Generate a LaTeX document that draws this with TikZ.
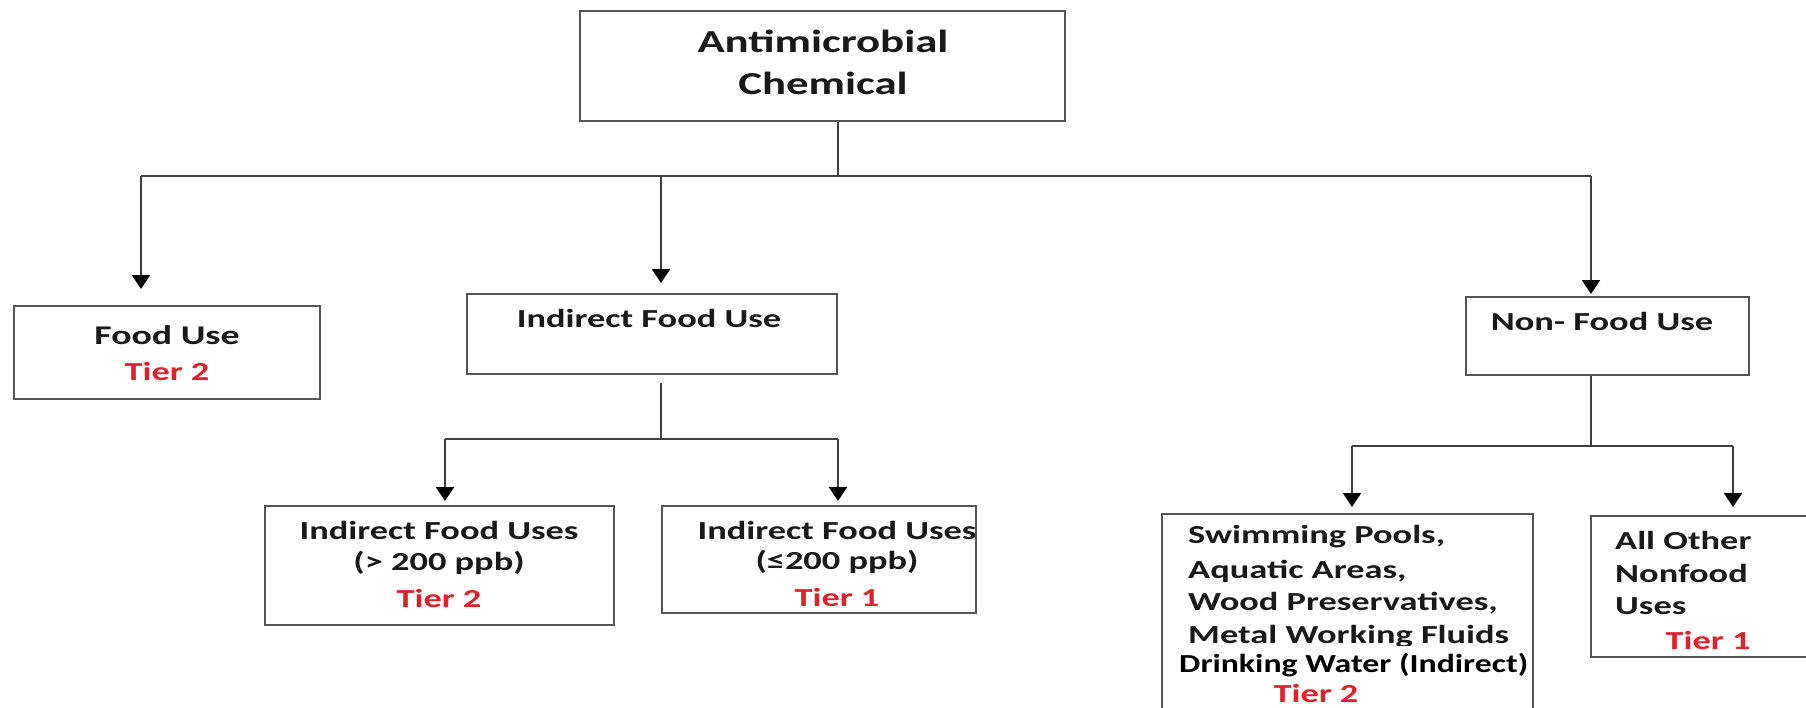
\documentclass[tikz,border=0pt]{standalone}
\usepackage{fontspec}
\setmainfont{Carlito}
\newfontfamily\calfont[FakeStretch=1.4]{Carlito}
\newfontfamily\calfontdw[FakeStretch=1.3]{Carlito}
\usetikzlibrary{arrows.meta}
\definecolor{tierred}{RGB}{224,32,42}
\definecolor{boxgray}{RGB}{85,85,85}
\definecolor{txtblack}{RGB}{25,25,25}
\begin{document}
\begin{tikzpicture}[x=1pt,y=-1pt,
  box/.style={draw=boxgray,line width=2pt,inner sep=0pt},
  txt/.style={font=\calfont\bfseries\fontsize{26}{33}\selectfont,inner sep=0pt,text=txtblack},
  titletxt/.style={font=\calfont\bfseries\fontsize{32}{40}\selectfont,inner sep=0pt,text=txtblack},
  tier/.style={txt,text=tierred},
  ltxt/.style={txt,anchor=west},
  conn/.style={draw=black!75,line width=2pt},
  arr/.style={conn,-{Triangle[width=18pt,length=14pt,color=black]}},
]
\clip (0,0) rectangle (1806,707);
\fill[white] (0,0) rectangle (1806,707);

% boxes
\node[box,minimum width=485pt,minimum height=110pt] (root) at (822.5,66) {};
\node[box,minimum width=306pt,minimum height=93pt] (food) at (167,352.5) {};
\node[box,minimum width=370pt,minimum height=80pt] (ind) at (652,334) {};
\node[box,minimum width=349pt,minimum height=119pt] (ig) at (439.5,565.5) {};
\node[box,minimum width=314pt,minimum height=107pt] (il) at (819,559.5) {};
\node[box,minimum width=283pt,minimum height=78pt] (non) at (1607.5,336) {};
\node[box,minimum width=371pt,minimum height=201pt] (sw) at (1347.5,614.5) {};
\node[box,minimum width=229pt,minimum height=141pt] (ao) at (1705.5,586.5) {};

% texts
\node[titletxt] (troot1) at (823,41) {Antimicrobial};
\node[titletxt] (troot2) at (823,83) {Chemical};
\node[txt,font=\calfont\bfseries\fontsize{27}{33}\selectfont] (tfood) at (167,335) {Food Use};
\node[tier] (tfoodt) at (167,371) {Tier 2};
\node[txt] (tind) at (649,318) {Indirect Food Use};
\node[txt] (tig1) at (439,530) {Indirect Food Uses};
\node[txt] (tig2) at (439,563) {(> 200 ppb)};
\node[tier] (tig3) at (439,598) {Tier 2};
\node[txt] (til1) at (837,530) {Indirect Food Uses};
\node[txt] (til2) at (837,562) {(≤200 ppb)};
\node[tier] (til3) at (837,597) {Tier 1};
\node[txt] (tnon) at (1602,321) {Non- Food Use};
\node[ltxt] (tsw1) at (1188,537) {Swimming Pools,};
\node[ltxt] (tsw2) at (1188,571) {Aquatic Areas,};
\node[ltxt] (tsw3) at (1188,603) {Wood Preservatives,};
\node[ltxt] (tsw4) at (1188,637) {Metal Working Fluids};
\fill[white] (1166,646) rectangle (1529,652);
\node[txt,font=\calfontdw\bfseries\fontsize{26}{33}\selectfont,text=black,anchor=west] (tsw5) at (1179,665) {Drinking Water (Indirect)};
\node[tier] (tsw6) at (1316,693) {Tier 2};
\node[ltxt] (tao1) at (1615,540) {All Other};
\node[ltxt] (tao2) at (1615,573) {Nonfood};
\node[ltxt] (tao3) at (1615,606) {Uses};
\node[tier] (tao4) at (1708,640) {Tier 1};

% connectors level 1
\coordinate (jl) at (141,176);
\coordinate (jm) at (661,176);
\coordinate (jc) at (838,176);
\coordinate (jr) at (1591,176);
\draw[conn] (jc |- root.south) -- (jc);
\draw[conn] (jl) -- (jr);
\draw[arr,shorten >=16pt] (jl) -- (jl |- food.north);
\draw[arr,shorten >=10pt] (jm) -- (jm |- ind.north);
\draw[arr,shorten >=2pt] (jr) -- (jr |- non.north);

% level 2 (indirect)
\coordinate (ka) at (661,439);
\coordinate (kl) at (445,439);
\coordinate (kr) at (838,439);
\draw[conn] ([yshift=-8pt]ka |- ind.south) -- (ka);
\draw[conn] (kl) -- (kr);
\draw[arr,shorten >=4pt] (kl) -- (kl |- ig.north);
\draw[arr,shorten >=4pt] (kr) -- (kr |- il.north);

% level 2 (non-food)
\coordinate (ma) at (1591,446);
\coordinate (ml) at (1352,446);
\coordinate (mr) at (1733,446);
\draw[conn] (ma |- non.south) -- (ma);
\draw[conn] (ml) -- (mr);
\draw[arr,shorten >=6pt] (ml) -- (ml |- sw.north);
\draw[arr,shorten >=8pt] (mr) -- (mr |- ao.north);
\end{tikzpicture}
\end{document}
